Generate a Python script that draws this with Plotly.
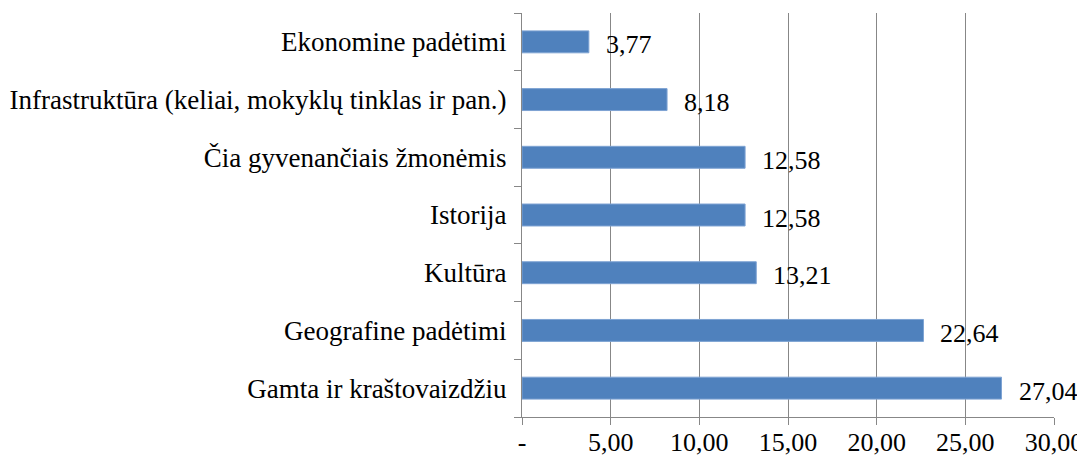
import plotly.graph_objects as go

categories = [
    "Gamta ir kraštovaizdžiu",
    "Geografine padėtimi",
    "Kultūra",
    "Istorija",
    "Čia gyvenančiais žmonėmis",
    "Infrastruktūra (keliai, mokyklų tinklas ir pan.)",
    "Ekonomine padėtimi",
]
values = [27.04, 22.64, 13.21, 12.58, 12.58, 8.18, 3.77]
labels = ["27,04", "22,64", "13,21", "12,58", "12,58", "8,18", "3,77"]

tick_vals = [0, 5, 10, 15, 20, 25, 30]
tick_text = ["-", "5,00", "10,00", "15,00", "20,00", "25,00", "30,00"]

font = "Liberation Serif"

fig = go.Figure()
fig.add_trace(go.Bar(
    x=values, y=categories, orientation="h",
    marker=dict(color="#4F81BD", line=dict(color="#7EA3D3", width=1)),
    width=0.38,
))

for c, v, t in zip(categories, values, labels):
    fig.add_annotation(x=v, y=c, text=t, showarrow=False, xanchor="left",
                       xshift=15, yshift=-3, font=dict(family=font, size=26, color="black"))

# page body has an 8px margin, so the figure is sized to fit the window
fig.update_layout(
    width=1077, height=450,
    margin=dict(l=514, r=31, t=5, b=41),
    plot_bgcolor="white", paper_bgcolor="white",
    showlegend=False,
    font=dict(family=font, size=27, color="black"),
)
fig.update_xaxes(
    range=[0, 30], tickvals=tick_vals, ticktext=tick_text,
    showgrid=True, gridcolor="#878787", gridwidth=1,
    showline=True, linecolor="#878787", linewidth=1,
    ticks="outside", ticklen=7, tickcolor="#878787",
    zeroline=False, fixedrange=True, automargin=False,
    ticklabelstandoff=-5,
    tickfont=dict(family=font, size=26),
)
fig.update_yaxes(
    showgrid=False, showline=True, linecolor="#878787", linewidth=1,
    ticks="outside", ticklen=7, tickcolor="#878787", tickson="boundaries",
    ticklabelstandoff=9, fixedrange=True, automargin=False,
    tickfont=dict(family=font, size=27),
)

fig.write_html("out.html")
